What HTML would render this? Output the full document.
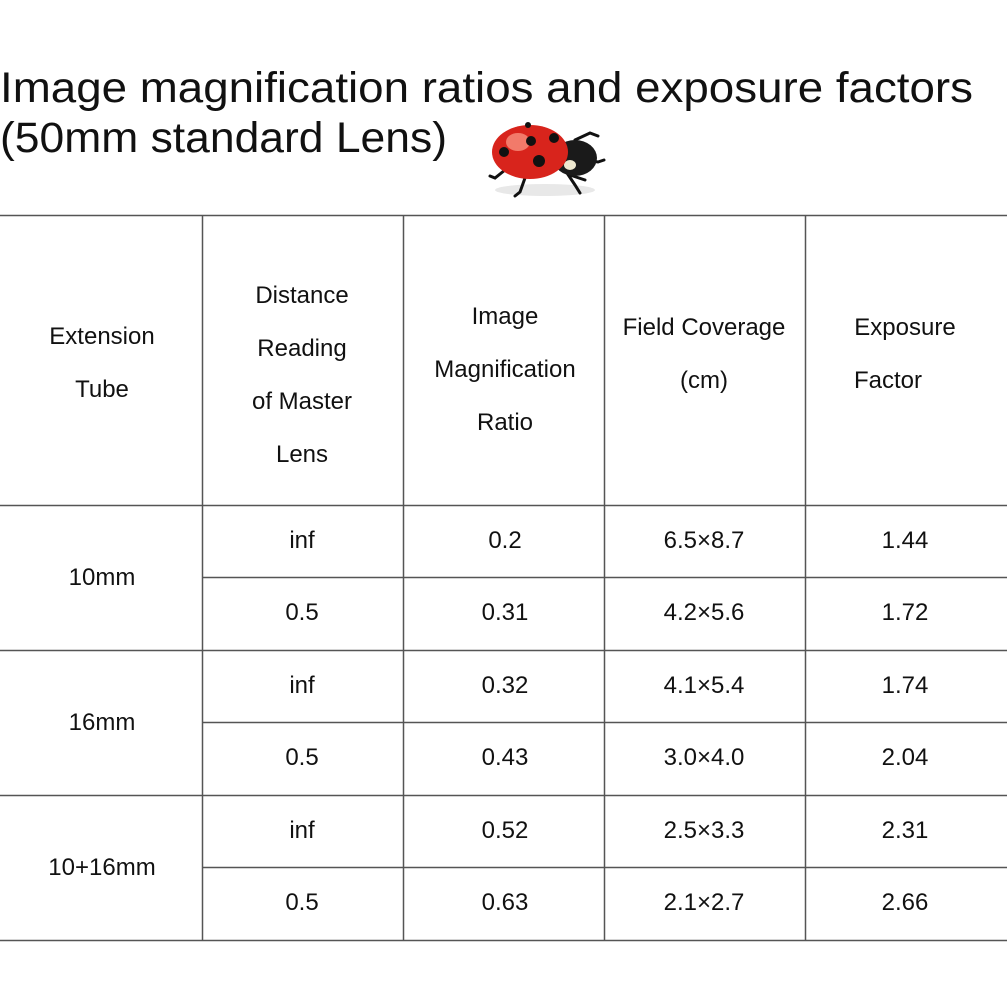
<!DOCTYPE html>
<html><head><meta charset="utf-8"><style>
html,body{margin:0;padding:0;background:#fff;}
svg{display:block;}
text{font-family:"Liberation Sans",sans-serif;fill:#111;}
</style></head><body>
<svg width="1007" height="1007" viewBox="0 0 1007 1007" xmlns="http://www.w3.org/2000/svg">
<text x="0" y="102" font-size="43" textLength="973" lengthAdjust="spacingAndGlyphs">Image magnification ratios and exposure factors</text>
<text x="0" y="152" font-size="43" textLength="447" lengthAdjust="spacingAndGlyphs">(50mm standard Lens)</text>
<!-- ladybug -->
<g>
<ellipse cx="545" cy="190" rx="50" ry="6" fill="#e8e8e8"/>
<g stroke="#111" stroke-width="3" fill="none" stroke-linecap="round">
<path d="M505 170 L495 178 L490 176"/><path d="M525 178 L520 192 L515 196"/>
<path d="M565 170 L575 185 L580 193"/><path d="M575 140 L590 133 L598 136"/>
<path d="M585 160 L598 162 L604 160"/><path d="M570 175 L585 180"/>
</g>
<ellipse cx="575" cy="158" rx="22" ry="18" fill="#1a1a1a"/>
<ellipse cx="570" cy="165" rx="6" ry="5" fill="#eee8d0"/>
<ellipse cx="530" cy="152" rx="38" ry="27" fill="#d8241c"/>
<ellipse cx="518" cy="142" rx="12" ry="9" fill="#f27a6a"/>
<circle cx="504" cy="152" r="5" fill="#111"/><circle cx="531" cy="141" r="5" fill="#111"/>
<circle cx="539" cy="161" r="6" fill="#111"/><circle cx="554" cy="138" r="5" fill="#111"/>
<circle cx="528" cy="125" r="3" fill="#111"/>
</g>
<g stroke="#555" stroke-width="1.5">
<line x1="0" y1="215.5" x2="1007" y2="215.5"/>
<line x1="0" y1="505.5" x2="1007" y2="505.5"/>
<line x1="0" y1="650.5" x2="1007" y2="650.5"/>
<line x1="0" y1="795.5" x2="1007" y2="795.5"/>
<line x1="0" y1="940.5" x2="1007" y2="940.5"/>
<line x1="202" y1="577.5" x2="1007" y2="577.5"/>
<line x1="202" y1="722.5" x2="1007" y2="722.5"/>
<line x1="202" y1="867.5" x2="1007" y2="867.5"/>
<line x1="202.5" y1="215" x2="202.5" y2="940"/>
<line x1="403.5" y1="215" x2="403.5" y2="940"/>
<line x1="604.5" y1="215" x2="604.5" y2="940"/>
<line x1="805.5" y1="215" x2="805.5" y2="940"/>
</g>
<g font-size="24" text-anchor="middle">
<text x="102" y="344">Extension</text><text x="102" y="397">Tube</text>
<text x="302" y="303">Distance</text><text x="302" y="356">Reading</text><text x="302" y="409">of Master</text><text x="302" y="462">Lens</text>
<text x="505" y="324">Image</text><text x="505" y="377">Magnification</text><text x="505" y="430">Ratio</text>
<text x="704" y="335">Field Coverage</text><text x="704" y="388">(cm)</text>
<text x="905" y="335">Exposure</text><text x="888" y="388">Factor</text>
<text x="102" y="585">10mm</text><text x="102" y="730">16mm</text><text x="102" y="875">10+16mm</text>
<text x="302" y="548">inf</text><text x="302" y="620">0.5</text>
<text x="302" y="693">inf</text><text x="302" y="765">0.5</text>
<text x="302" y="838">inf</text><text x="302" y="910">0.5</text>
<text x="505" y="548">0.2</text><text x="505" y="620">0.31</text>
<text x="505" y="693">0.32</text><text x="505" y="765">0.43</text>
<text x="505" y="838">0.52</text><text x="505" y="910">0.63</text>
<text x="704" y="548">6.5×8.7</text><text x="704" y="620">4.2×5.6</text>
<text x="704" y="693">4.1×5.4</text><text x="704" y="765">3.0×4.0</text>
<text x="704" y="838">2.5×3.3</text><text x="704" y="910">2.1×2.7</text>
<text x="905" y="548">1.44</text><text x="905" y="620">1.72</text>
<text x="905" y="693">1.74</text><text x="905" y="765">2.04</text>
<text x="905" y="838">2.31</text><text x="905" y="910">2.66</text>
</g>
</svg>
</body></html>
